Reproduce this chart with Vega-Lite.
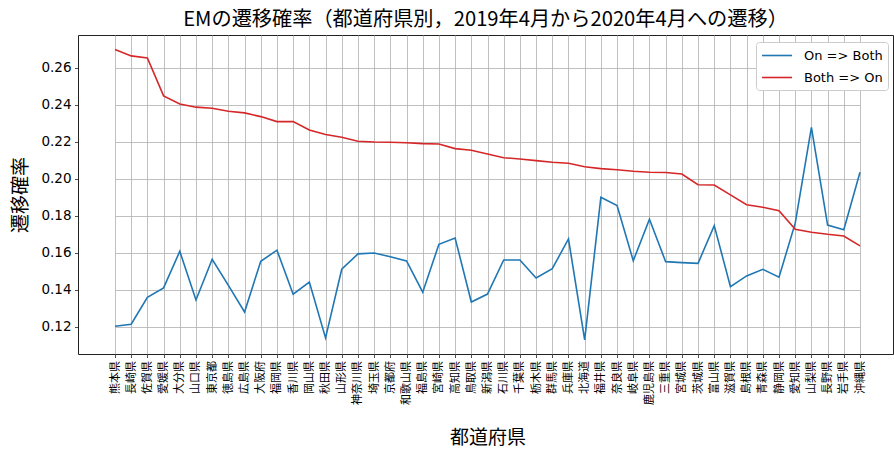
{
  "$schema": "https://vega.github.io/schema/vega-lite/v6.json",
  "width": 815,
  "height": 319,
  "autosize": {"type": "none"},
  "padding": {"left": 78, "top": 35, "right": 1, "bottom": 96},
  "background": "white",
  "title": {
    "text": "EMの遷移確率（都道府県別，2019年4月から2020年4月への遷移）",
    "font": "Noto Sans CJK JP",
    "fontSize": 20.2,
    "fontWeight": "normal",
    "color": "#000",
    "anchor": "middle",
    "offset": 5
  },
  "config": {
    "view": {"stroke": "#222", "strokeWidth": 1},
    "axis": {
      "domain": false,
      "grid": true,
      "gridColor": "#b0b0b0",
      "gridWidth": 0.8,
      "tickColor": "#222",
      "tickSize": 3.5,
      "tickWidth": 0.8,
      "labelColor": "#000",
      "titleColor": "#000",
      "titleFont": "Noto Sans CJK JP",
      "titleFontWeight": "normal",
      "titleFontSize": 19
    }
  },
  "data": {
    "values": [
      {"pref": "熊本県", "series": "On => Both", "value": 0.1204},
      {"pref": "長崎県", "series": "On => Both", "value": 0.1215},
      {"pref": "佐賀県", "series": "On => Both", "value": 0.1360},
      {"pref": "愛媛県", "series": "On => Both", "value": 0.1411},
      {"pref": "大分県", "series": "On => Both", "value": 0.1609},
      {"pref": "山口県", "series": "On => Both", "value": 0.1346},
      {"pref": "東京都", "series": "On => Both", "value": 0.1566},
      {"pref": "徳島県", "series": "On => Both", "value": 0.1425},
      {"pref": "広島県", "series": "On => Both", "value": 0.1281},
      {"pref": "大阪府", "series": "On => Both", "value": 0.1555},
      {"pref": "福岡県", "series": "On => Both", "value": 0.1615},
      {"pref": "香川県", "series": "On => Both", "value": 0.1377},
      {"pref": "岡山県", "series": "On => Both", "value": 0.1443},
      {"pref": "秋田県", "series": "On => Both", "value": 0.1141},
      {"pref": "山形県", "series": "On => Both", "value": 0.1512},
      {"pref": "神奈川県", "series": "On => Both", "value": 0.1595},
      {"pref": "埼玉県", "series": "On => Both", "value": 0.1600},
      {"pref": "京都府", "series": "On => Both", "value": 0.1580},
      {"pref": "和歌山県", "series": "On => Both", "value": 0.1557},
      {"pref": "福島県", "series": "On => Both", "value": 0.1388},
      {"pref": "宮崎県", "series": "On => Both", "value": 0.1647},
      {"pref": "高知県", "series": "On => Both", "value": 0.1681},
      {"pref": "鳥取県", "series": "On => Both", "value": 0.1335},
      {"pref": "新潟県", "series": "On => Both", "value": 0.1378},
      {"pref": "石川県", "series": "On => Both", "value": 0.1562},
      {"pref": "千葉県", "series": "On => Both", "value": 0.1562},
      {"pref": "栃木県", "series": "On => Both", "value": 0.1465},
      {"pref": "群馬県", "series": "On => Both", "value": 0.1515},
      {"pref": "兵庫県", "series": "On => Both", "value": 0.1676},
      {"pref": "北海道", "series": "On => Both", "value": 0.1130},
      {"pref": "福井県", "series": "On => Both", "value": 0.1901},
      {"pref": "奈良県", "series": "On => Both", "value": 0.1856},
      {"pref": "岐阜県", "series": "On => Both", "value": 0.1558},
      {"pref": "鹿児島県", "series": "On => Both", "value": 0.1782},
      {"pref": "三重県", "series": "On => Both", "value": 0.1553},
      {"pref": "宮城県", "series": "On => Both", "value": 0.1548},
      {"pref": "茨城県", "series": "On => Both", "value": 0.1544},
      {"pref": "富山県", "series": "On => Both", "value": 0.1748},
      {"pref": "滋賀県", "series": "On => Both", "value": 0.1418},
      {"pref": "島根県", "series": "On => Both", "value": 0.1476},
      {"pref": "青森県", "series": "On => Both", "value": 0.1512},
      {"pref": "静岡県", "series": "On => Both", "value": 0.1469},
      {"pref": "愛知県", "series": "On => Both", "value": 0.1761},
      {"pref": "山梨県", "series": "On => Both", "value": 0.2279},
      {"pref": "長野県", "series": "On => Both", "value": 0.1751},
      {"pref": "岩手県", "series": "On => Both", "value": 0.1726},
      {"pref": "沖縄県", "series": "On => Both", "value": 0.2036},
      {"pref": "熊本県", "series": "Both => On", "value": 0.2700},
      {"pref": "長崎県", "series": "Both => On", "value": 0.2665},
      {"pref": "佐賀県", "series": "Both => On", "value": 0.2654},
      {"pref": "愛媛県", "series": "Both => On", "value": 0.2449},
      {"pref": "大分県", "series": "Both => On", "value": 0.2405},
      {"pref": "山口県", "series": "Both => On", "value": 0.2388},
      {"pref": "東京都", "series": "Both => On", "value": 0.2382},
      {"pref": "徳島県", "series": "Both => On", "value": 0.2366},
      {"pref": "広島県", "series": "Both => On", "value": 0.2357},
      {"pref": "大阪府", "series": "Both => On", "value": 0.2337},
      {"pref": "福岡県", "series": "Both => On", "value": 0.2310},
      {"pref": "香川県", "series": "Both => On", "value": 0.2310},
      {"pref": "岡山県", "series": "Both => On", "value": 0.2265},
      {"pref": "秋田県", "series": "Both => On", "value": 0.2240},
      {"pref": "山形県", "series": "Both => On", "value": 0.2225},
      {"pref": "神奈川県", "series": "Both => On", "value": 0.2204},
      {"pref": "埼玉県", "series": "Both => On", "value": 0.2200},
      {"pref": "京都府", "series": "Both => On", "value": 0.2198},
      {"pref": "和歌山県", "series": "Both => On", "value": 0.2196},
      {"pref": "福島県", "series": "Both => On", "value": 0.2191},
      {"pref": "宮崎県", "series": "Both => On", "value": 0.2189},
      {"pref": "高知県", "series": "Both => On", "value": 0.2164},
      {"pref": "鳥取県", "series": "Both => On", "value": 0.2155},
      {"pref": "新潟県", "series": "Both => On", "value": 0.2135},
      {"pref": "石川県", "series": "Both => On", "value": 0.2115},
      {"pref": "千葉県", "series": "Both => On", "value": 0.2108},
      {"pref": "栃木県", "series": "Both => On", "value": 0.2099},
      {"pref": "群馬県", "series": "Both => On", "value": 0.2090},
      {"pref": "兵庫県", "series": "Both => On", "value": 0.2085},
      {"pref": "北海道", "series": "Both => On", "value": 0.2066},
      {"pref": "福井県", "series": "Both => On", "value": 0.2056},
      {"pref": "奈良県", "series": "Both => On", "value": 0.2050},
      {"pref": "岐阜県", "series": "Both => On", "value": 0.2042},
      {"pref": "鹿児島県", "series": "Both => On", "value": 0.2036},
      {"pref": "三重県", "series": "Both => On", "value": 0.2035},
      {"pref": "宮城県", "series": "Both => On", "value": 0.2027},
      {"pref": "茨城県", "series": "Both => On", "value": 0.1969},
      {"pref": "富山県", "series": "Both => On", "value": 0.1967},
      {"pref": "滋賀県", "series": "Both => On", "value": 0.1914},
      {"pref": "島根県", "series": "Both => On", "value": 0.1861},
      {"pref": "青森県", "series": "Both => On", "value": 0.1847},
      {"pref": "静岡県", "series": "Both => On", "value": 0.1828},
      {"pref": "愛知県", "series": "Both => On", "value": 0.1728},
      {"pref": "山梨県", "series": "Both => On", "value": 0.1712},
      {"pref": "長野県", "series": "Both => On", "value": 0.1701},
      {"pref": "岩手県", "series": "Both => On", "value": 0.1692},
      {"pref": "沖縄県", "series": "Both => On", "value": 0.1638}
    ]
  },
  "mark": {"type": "line", "strokeWidth": 1.6},
  "encoding": {
    "x": {
      "field": "pref",
      "type": "nominal",
      "sort": null,
      "scale": {"type": "point", "padding": 0, "range": [37, 782]},
      "axis": {
        "title": "都道府県",
        "labelAngle": -90,
        "labelFont": "Noto Sans CJK JP",
        "labelFontSize": 11,
        "labelPadding": 3,
        "titlePadding": 24
      }
    },
    "y": {
      "field": "value",
      "type": "quantitative",
      "scale": {"domain": [0.1054, 0.2778], "nice": false, "zero": false},
      "axis": {
        "title": "遷移確率",
        "values": [0.12, 0.14, 0.16, 0.18, 0.2, 0.22, 0.24, 0.26],
        "format": ".2f",
        "labelFont": "DejaVu Sans",
        "labelFontSize": 13.5,
        "labelPadding": 3.5,
        "titlePadding": 10
      }
    },
    "color": {
      "field": "series",
      "type": "nominal",
      "sort": ["On => Both", "Both => On"],
      "scale": {"domain": ["On => Both", "Both => On"], "range": ["#1f77b4", "#d62728"]},
      "legend": {
        "title": null,
        "orient": "none",
        "legendX": 678,
        "legendY": 7,
        "symbolType": "M-1,0L3,0",
        "symbolSize": 225,
        "symbolStrokeWidth": 1.6,
        "labelFont": "DejaVu Sans",
        "labelFontSize": 13,
        "labelColor": "#000",
        "labelOffset": 26,
        "rowPadding": 6,
        "padding": 5,
        "fillColor": "white",
        "strokeColor": "#cccccc",
        "cornerRadius": 3
      }
    }
  }
}
